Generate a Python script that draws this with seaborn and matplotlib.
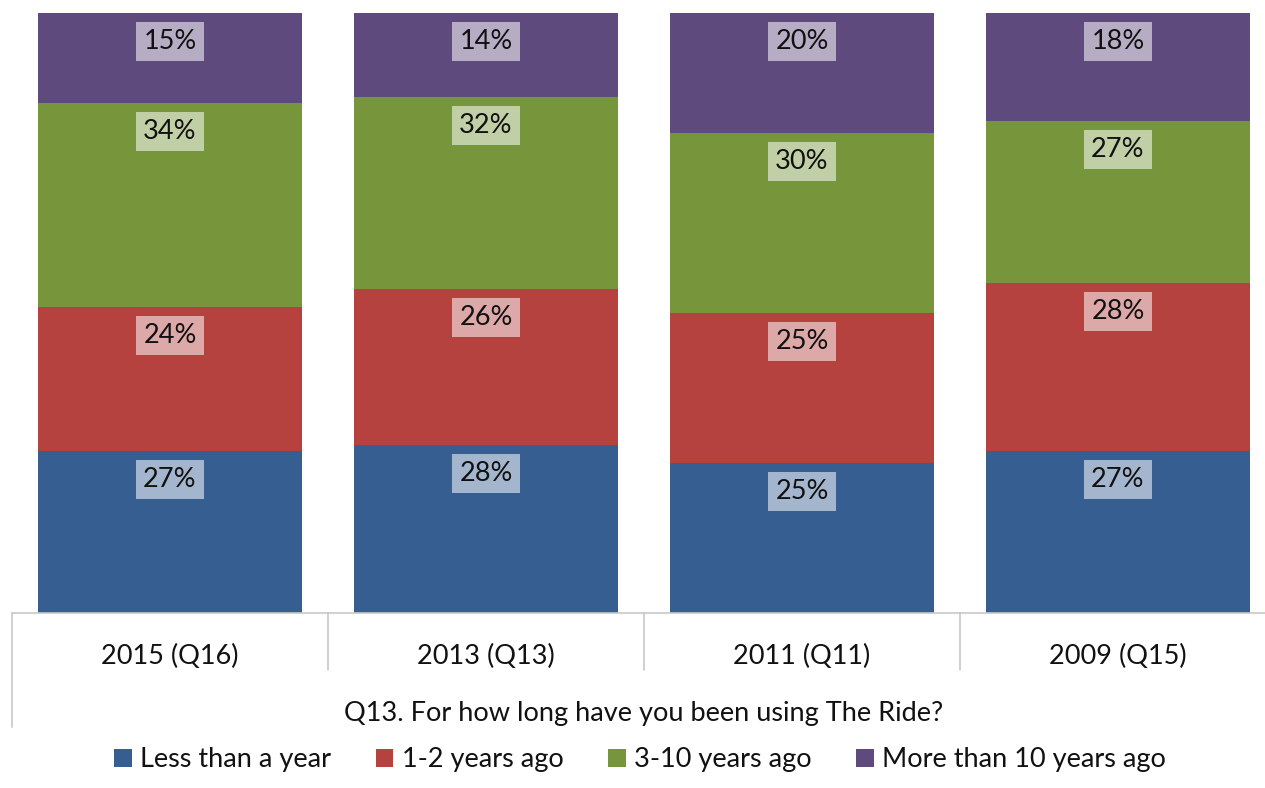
import matplotlib
matplotlib.use("Agg")
import matplotlib.pyplot as plt
from matplotlib.patches import Patch
import matplotlib.transforms as mtransforms
import numpy as np
import pandas as pd
import seaborn as sns

# Survey waves (categories) and answer shares in percent
waves = ["2015 (Q16)", "2013 (Q13)", "2011 (Q11)", "2009 (Q15)"]
less_than_year = [27, 28, 25, 27]
one_two_years = [24, 26, 25, 28]
three_ten_years = [34, 32, 30, 27]
more_than_ten = [15, 14, 20, 18]

series_names = ["Less than a year", "1-2 years ago", "3-10 years ago", "More than 10 years ago"]
series_values = [less_than_year, one_two_years, three_ten_years, more_than_ten]
bar_colors = ["#375e91", "#b6423f", "#77953b", "#5f4a7d"]
axis_title = "Q13. For how long have you been using The Ride?"

sns.set_theme(style="white")
plt.rcParams["font.family"] = ["Lato", "DejaVu Sans"]
FS = 19.5

fig = plt.figure(figsize=(12.65, 7.88), dpi=100)
W, H = 1265, 788
ax = fig.add_axes([12 / W, (H - 613) / H, 1264 / W, 600 / H])

df = pd.DataFrame({"wave": waves})
cum = np.zeros(len(waves))
tops = []
for vals in series_values:
    cum = cum + np.array(vals)
    tops.append(cum.copy())

# Draw cumulative bars from the top segment down so each overlays the previous
for name, color, top in reversed(list(zip(series_names, bar_colors, tops))):
    df[name] = top
    sns.barplot(data=df, x="wave", y=name, color=color, saturation=1,
                width=0.835, order=waves, ax=ax, linewidth=0, errorbar=None)

# Value labels inside the top end of each segment
for vals, top in zip(series_values, tops):
    for i, (v, t) in enumerate(zip(vals, top)):
        ax.annotate(f"{v}%", xy=(i, t), xytext=(0, -20.5), textcoords="offset points",
                    ha="center", va="center", fontsize=FS, color="#111111",
                    bbox=dict(boxstyle="square,pad=0.26", facecolor="white",
                              edgecolor="none", alpha=0.55))

ax.set_xlim(-0.5, len(waves) - 0.5)
ax.set_ylim(0, 100)
ax.set_yticks([])
ax.set_ylabel("")
for s in ["top", "left", "right"]:
    ax.spines[s].set_visible(False)
ax.spines["bottom"].set_color("#c8c8c8")
ax.spines["bottom"].set_linewidth(1.2)

ax.tick_params(axis="x", length=0, pad=22.5, labelsize=FS, labelcolor="#111111")
ax.set_xlabel(axis_title, fontsize=FS, color="#111111", labelpad=23)

# Category dividers below the axis
trans = mtransforms.blended_transform_factory(ax.transData, ax.transAxes)
for xb in np.arange(0.5, len(waves) - 0.5, 1.0):
    ax.plot([xb, xb], [0, -0.095], transform=trans, color="#c8c8c8", lw=1.2, clip_on=False)
ax.plot([-0.5, -0.5], [0, -0.19], transform=trans, color="#c8c8c8", lw=1.2, clip_on=False)

handles = [Patch(facecolor=c, edgecolor="none", label=n) for n, c in zip(series_names, bar_colors)]
fig.legend(handles=handles, loc="center", bbox_to_anchor=(640 / W, (H - 760) / H), ncol=4,
           frameon=False, fontsize=FS, handlelength=0.65, handleheight=0.65,
           handletextpad=0.3, columnspacing=1.65, labelcolor="#111111")

fig.savefig("out.png", dpi=100, facecolor="white")
